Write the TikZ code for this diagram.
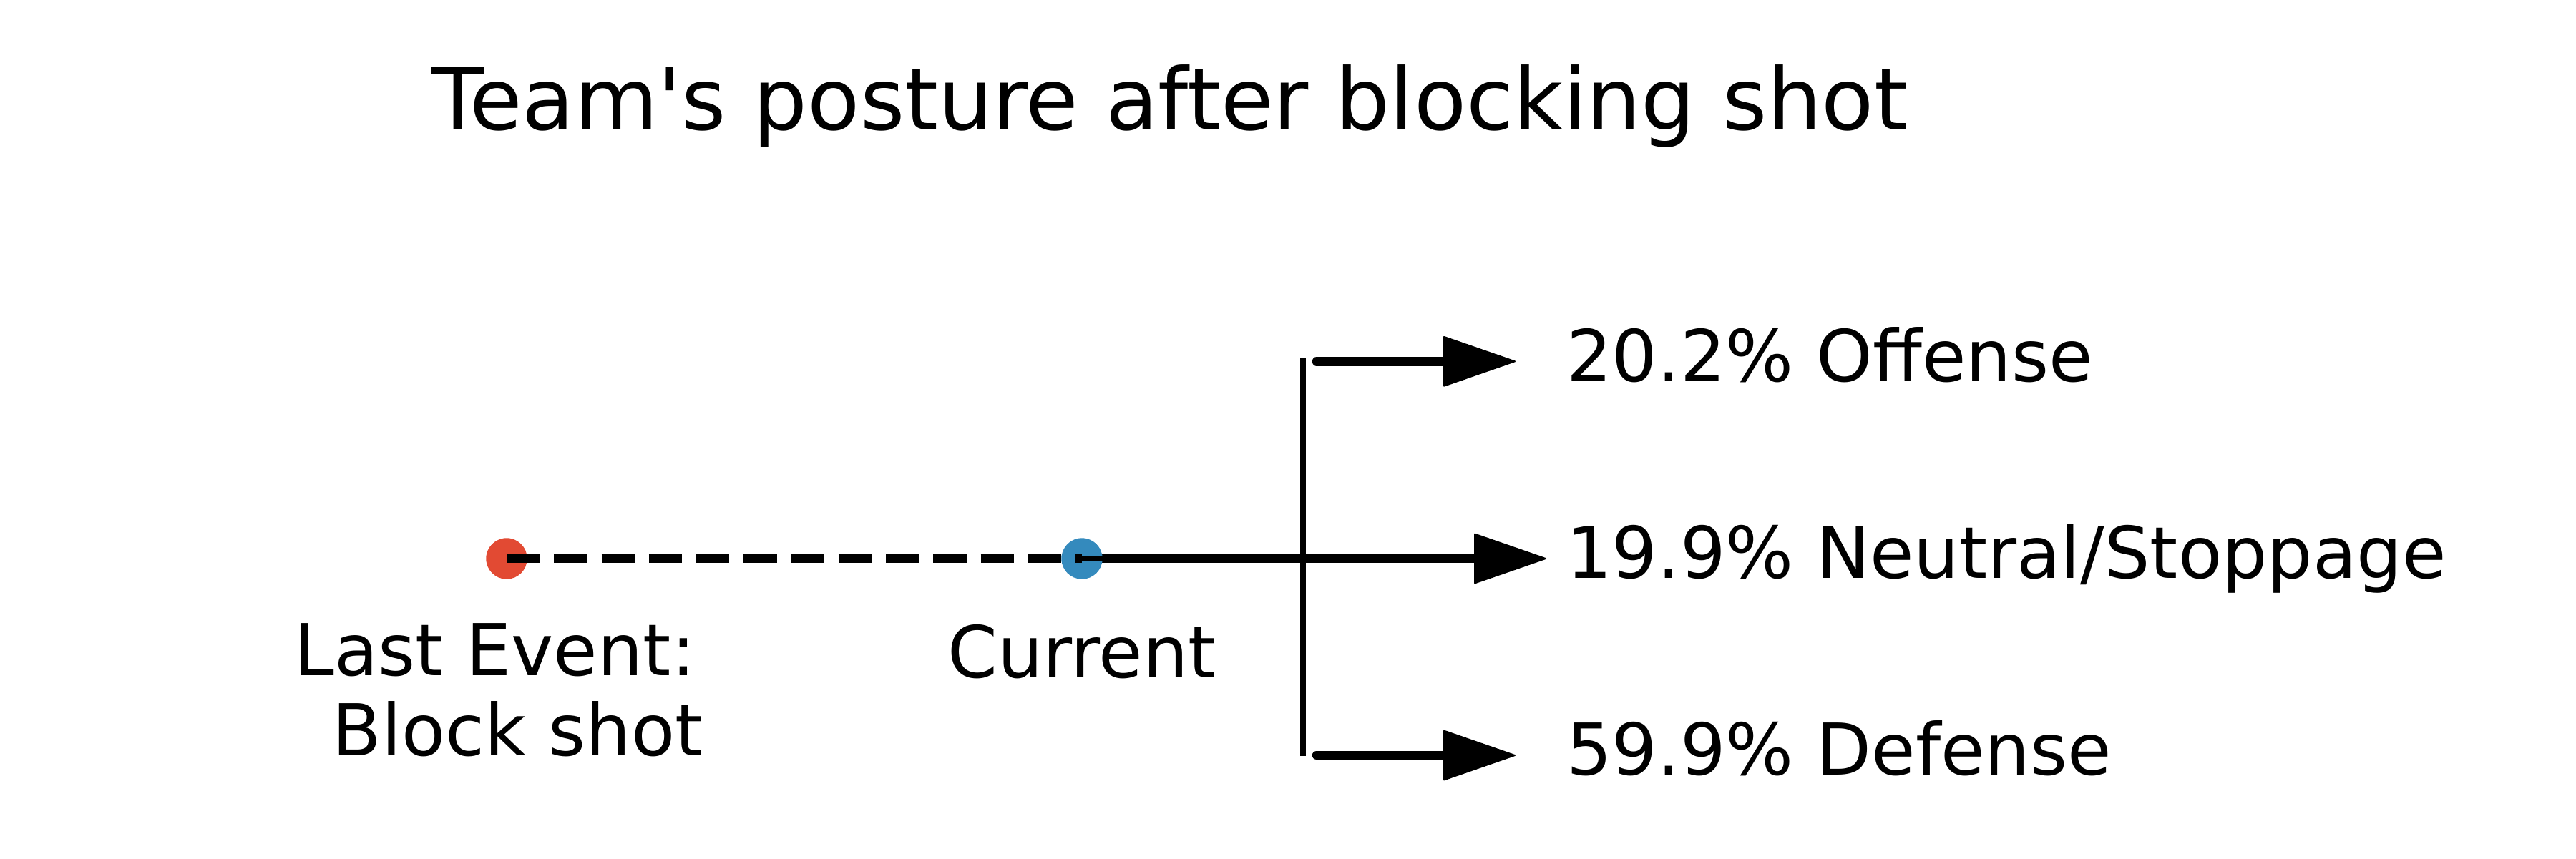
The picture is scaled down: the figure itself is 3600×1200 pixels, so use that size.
\documentclass[tikz,border=0pt]{standalone}
\usepackage{fontspec}
\newfontfamily\dvs{DejaVu Sans}
\usetikzlibrary{arrows.meta}
\pgfdeclarelayer{bg}
\pgfsetlayers{bg,main}
\definecolor{dotred}{HTML}{E24A33}
\definecolor{dotblue}{HTML}{348ABD}
\begin{document}
\begin{tikzpicture}[x=1pt,y=-1pt,
  lbl/.style={font=\dvs\fontsize{100}{112}\selectfont, inner sep=0pt},
  ttl/.style={font=\dvs\fontsize{119.7}{140}\selectfont, inner sep=0pt},
  dot/.style={circle, inner sep=0pt, minimum size=57.4pt},
  shaft/.style={line width=12.5pt},
  tipped/.style={-{Triangle[length=103pt,width=71pt,line width=2pt,round]}},
  branch/.style={shaft, line cap=round, tipped},
  bar/.style={line width=8.33pt}]
\useasboundingbox (0,0) rectangle (3600,1200);
% points
\node[dot, fill=dotred] (last) at (708,781) {};
\node[dot, fill=dotblue] (cur) at (1512,781) {};
\coordinate (junc) at (1821,781);
\coordinate (bartop) at (1821,500);
\coordinate (barbot) at (1821,1057);
\coordinate (offS) at (1840,505.3);
\coordinate (offT) at (2118,505.3);
\coordinate (midT) at (2161,781);
\coordinate (defS) at (1840,1056);
\coordinate (defT) at (2118,1056);
% connectors
\begin{pgfonlayer}{bg}
\draw[shaft, tipped] (cur.center) -- (midT);
\end{pgfonlayer}
\draw[bar] (cur.center) -- (junc);
\draw[shaft, dash pattern=on 46.25pt off 20pt] (last.center) -- (cur.center);
\draw[bar] (bartop) -- (barbot);
\draw[branch] (offS) -- (offT);
\draw[branch] (defS) -- (defT);
% texts
\node[ttl, anchor=base west] (title) at (603,181) {Team's posture after blocking shot};
\node[lbl, anchor=base west] (offl) at (2189,533) {20.2\% Offense};
\node[lbl, anchor=base west] (neul) at (2189,808.5) {19.9\% Neutral/Stoppage};
\node[lbl, anchor=base west] (defl) at (2189,1083.5) {59.9\% Defense};
\node[lbl, anchor=base] (curl) at (1512,947) {Current};
\node[lbl, align=right, anchor=base east] (lastl) at (983,1056) {Last Event:\hspace*{11pt}\\Block shot};
\end{tikzpicture}
\end{document}
